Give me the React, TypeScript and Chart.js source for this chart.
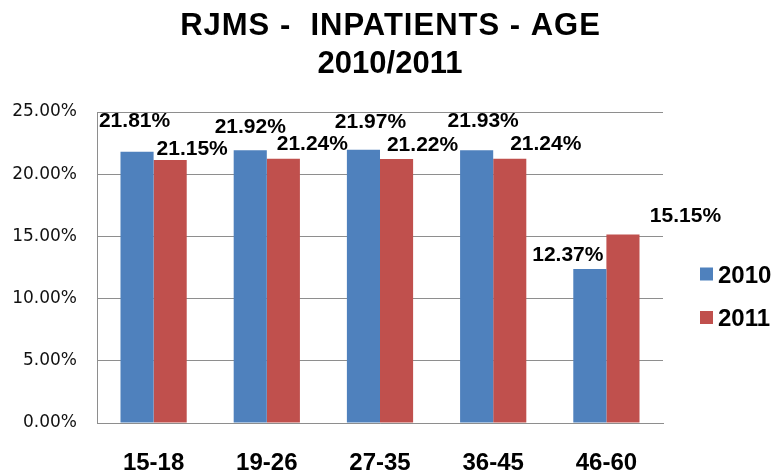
import React, { useEffect, useRef } from "react";
import { Chart, registerables } from "chart.js";

Chart.register(...registerables);

const categories = ["15-18", "19-26", "27-35", "36-45", "46-60"];
const series2010 = [21.81, 21.92, 21.97, 21.93, 12.37];
const series2011 = [21.15, 21.24, 21.22, 21.24, 15.15];
const seriesNames = ["2010", "2011"];
const titleLines = ["RJMS -  INPATIENTS - AGE", "2010/2011"];

const BLUE = "#4F81BD";
const RED = "#C0504D";
const GRID = "#8E8E8E";

// label offsets (dx, dy of text cap centre relative to bar top centre)
const labelOffsets = [
  [[-2.5, -32], [0, -24.5], [7, -29], [6.5, -30.5], [-22, -15.5]],
  [[22, -12], [29, -16], [26, -16], [36, -16], [62.5, -20.5]],
];

const titlePlugin = {
  id: "twoLineTitle",
  afterDraw(chart: any) {
    const ctx = chart.ctx;
    const size = 31;
    ctx.save();
    ctx.font = `bold ${size}px "Liberation Sans", Arial, sans-serif`;
    ctx.fillStyle = "#000";
    ctx.textAlign = "center";
    ctx.textBaseline = "alphabetic";
    const cx = 390;
    const centers = [24, 61.5];
    titleLines.forEach((line, i) => {
      const spacing = i === 0 ? 1 : 0;
      (ctx as any).letterSpacing = spacing + "px";
      ctx.fillText(line, cx + spacing / 2, centers[i] + 0.358 * size);
    });
    (ctx as any).letterSpacing = "0px";
    ctx.restore();
  },
};

const dataLabelPlugin = {
  id: "dataLabelPlugin",
  afterDatasetsDraw(chart: any) {
    const ctx = chart.ctx;
    const size = 21;
    ctx.save();
    ctx.font = `bold ${size}px "Liberation Sans", Arial, sans-serif`;
    ctx.fillStyle = "#000";
    ctx.textAlign = "center";
    ctx.textBaseline = "alphabetic";
    chart.data.datasets.forEach((ds: any, di: number) => {
      const meta = chart.getDatasetMeta(di);
      meta.data.forEach((bar: any, i: number) => {
        const v = ds.data[i];
        const [dx, dy] = labelOffsets[di][i];
        ctx.fillText(v.toFixed(2) + "%", bar.x + dx, bar.y + dy + 0.358 * size);
      });
    });
    ctx.restore();
  },
};

const legendPlugin = {
  id: "sideLegend",
  afterDraw(chart: any) {
    const ctx = chart.ctx;
    const area = chart.chartArea;
    const size = 24;
    ctx.save();
    ctx.font = `bold ${size}px "Liberation Sans", Arial, sans-serif`;
    ctx.textAlign = "left";
    ctx.textBaseline = "alphabetic";
    chart.data.datasets.forEach((ds: any, i: number) => {
      const cy = area.top + 162 + i * 43.5;
      const bx = area.right + 37;
      ctx.fillStyle = ds.backgroundColor;
      ctx.fillRect(bx, cy - 6.5, 13, 13);
      ctx.fillStyle = "#000";
      ctx.fillText(ds.label, bx + 18, cy + 0.358 * size);
    });
    ctx.restore();
  },
};

export default function App() {
  const ref = useRef<HTMLCanvasElement | null>(null);

  useEffect(() => {
    document.body.style.margin = "0";
    const canvas = ref.current;
    if (!canvas) return;
    const chart = new Chart(canvas, {
      type: "bar",
      data: {
        labels: categories,
        datasets: [
          {
            label: seriesNames[0],
            data: series2010,
            backgroundColor: BLUE,
            categoryPercentage: 0.585,
            barPercentage: 1,
          },
          {
            label: seriesNames[1],
            data: series2011,
            backgroundColor: RED,
            categoryPercentage: 0.585,
            barPercentage: 1,
          },
        ],
      },
      options: {
        animation: false,
        responsive: false,
        devicePixelRatio: 1,
        layout: { padding: { left: 0, right: 112, top: 112, bottom: 0 } },
        plugins: {
          legend: { display: false },
          tooltip: { enabled: false },
          title: { display: false },
        },
        scales: {
          x: {
            afterFit: (scale: any) => {
              scale.height = 53;
            },
            grid: { display: false, drawTicks: false },
            border: { display: true, color: GRID, width: 1 },
            ticks: {
              color: "#000",
              padding: 26,
              font: { family: '"Liberation Sans", Arial, sans-serif', size: 24, weight: "bold", lineHeight: 1.2 },
            },
          },
          y: {
            min: 0,
            max: 25,
            afterFit: (scale: any) => {
              scale.width = 97;
            },
            grid: { color: GRID, lineWidth: 1, drawTicks: false },
            border: { display: true, color: GRID, width: 1 },
            ticks: {
              stepSize: 5,
              color: "#111",
              padding: 20,
              font: { family: '"DejaVu Sans", Verdana, sans-serif', size: 17 },
              callback: (v: any) => Number(v).toFixed(2) + "%",
            },
          },
        },
      },
      plugins: [titlePlugin, dataLabelPlugin, legendPlugin],
    });
    return () => chart.destroy();
  }, []);

  return (
    <div style={{ width: 775, height: 476, background: "#fff" }}>
      <canvas ref={ref} width={775} height={476} style={{ display: "block" }} />
    </div>
  );
}
